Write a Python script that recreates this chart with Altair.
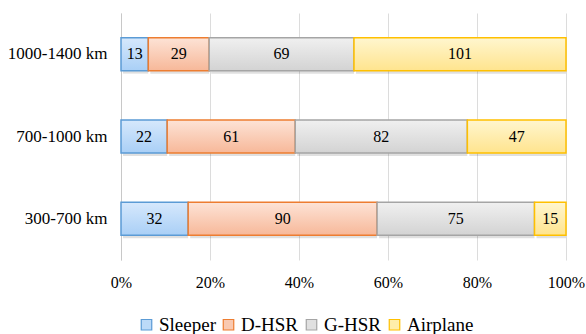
import altair as alt
import pandas as pd

# Trip-distance bands and mode shares (counts per band)
distances = ["1000-1400 km", "700-1000 km", "300-700 km"]
modes = ["Sleeper", "D-HSR", "G-HSR", "Airplane"]
sleeper = [13, 22, 32]
d_hsr = [29, 61, 90]
g_hsr = [69, 82, 75]
airplane = [101, 47, 15]

edge_colors = ["#5b9bd5", "#ed7d31", "#a5a5a5", "#ffc000"]
top_colors = ["#d6e8fc", "#fde3d6", "#f0f0f0", "#fff6cf"]
bottom_colors = ["#a9cff6", "#f7b899", "#d3d3d3", "#ffe48e"]
legend_fill = ["#bcdaf8", "#f9c9b1", "#e0e0e0", "#ffeeaa"]

series = [sleeper, d_hsr, g_hsr, airplane]
rows = []
for mi, (m, vals) in enumerate(zip(modes, series)):
    for d, v in zip(distances, vals):
        rows.append({"distance": d, "mode": m, "order": mi, "value": v})
df = pd.DataFrame(rows)

FONT = "Liberation Serif"

base = alt.Chart(df).transform_stack(
    stack="value",
    groupby=["distance"],
    sort=[alt.SortField("order", order="ascending")],
    as_=["x0", "x1"],
    offset="normalize",
).transform_calculate(mid="(datum.x0 + datum.x1) / 2")

y_enc = alt.Y(
    "distance:N",
    sort=distances,
    title=None,
    scale=alt.Scale(paddingInner=0.6, paddingOuter=0.3),
    axis=alt.Axis(
        labelFontSize=17, labelColor="#000000",
        ticks=False, domainColor="#c8c8c8", domainWidth=1,
        labelPadding=14, grid=False,
    ),
)
x_enc = alt.X(
    "x0:Q",
    title=None,
    scale=alt.Scale(domain=[0, 1], nice=False),
    axis=alt.Axis(
        format="%", values=[0, 0.2, 0.4, 0.6, 0.8, 1.0],
        labelFontSize=16, labelColor="#000000",
        labelFlush=False,
        domain=False, ticks=False, labelPadding=14,
        grid=True, gridColor="#dcdcdc", gridWidth=1,
    ),
)

layers = []
# soft drop shadow under the bars
layers.append(
    base.mark_bar(color="#000000", opacity=0.12, xOffset=2, yOffset=3).encode(
        x=x_enc, x2="x1:Q", y=y_enc
    )
)
for mi, m in enumerate(modes):
    grad = alt.Gradient(
        gradient="linear",
        stops=[
            alt.GradientStop(color=top_colors[mi], offset=0),
            alt.GradientStop(color=bottom_colors[mi], offset=1),
        ],
        x1=0, x2=0, y1=0, y2=1,
    )
    layers.append(
        base.transform_filter(alt.datum.mode == m)
        .mark_bar(fill=grad, stroke=edge_colors[mi], strokeWidth=1.5)
        .encode(x=x_enc, x2="x1:Q", y=y_enc)
    )

labels = base.mark_text(fontSize=16, color="#000000", baseline="middle").encode(
    x="mid:Q", y=alt.Y("distance:N", sort=distances), text="value:Q"
)

legend_layer = base.transform_filter("false").mark_square(size=0).encode(
    fill=alt.Fill(
        "mode:N",
        scale=alt.Scale(domain=modes, range=legend_fill),
        legend=alt.Legend(
            title=None, orient="none", direction="horizontal",
            legendX=16, legendY=302, labelFont=FONT,
        ),
    ),
    stroke=alt.Stroke("mode:N", scale=alt.Scale(domain=modes, range=edge_colors), legend=None),
)

chart = alt.layer(*layers, labels, legend_layer).properties(
    width=445,
    height=247,
    autosize=alt.AutoSizeParams(type="none"),
    padding={"left": 121, "top": 13, "right": 20, "bottom": 74},
    background="#ffffff",
).configure(font=FONT).configure_axis(labelFont=FONT).configure_text(font=FONT).configure_view(
    stroke=None
).configure_legend(
    symbolType="square", symbolSize=110, symbolStrokeWidth=1.2,
    symbolOpacity=1, labelFont=FONT, labelFontSize=19,
    labelColor="#000000", columnPadding=3, labelOffset=3,
)

chart.save("out.html", embed_options={"renderer": "svg", "actions": False})
